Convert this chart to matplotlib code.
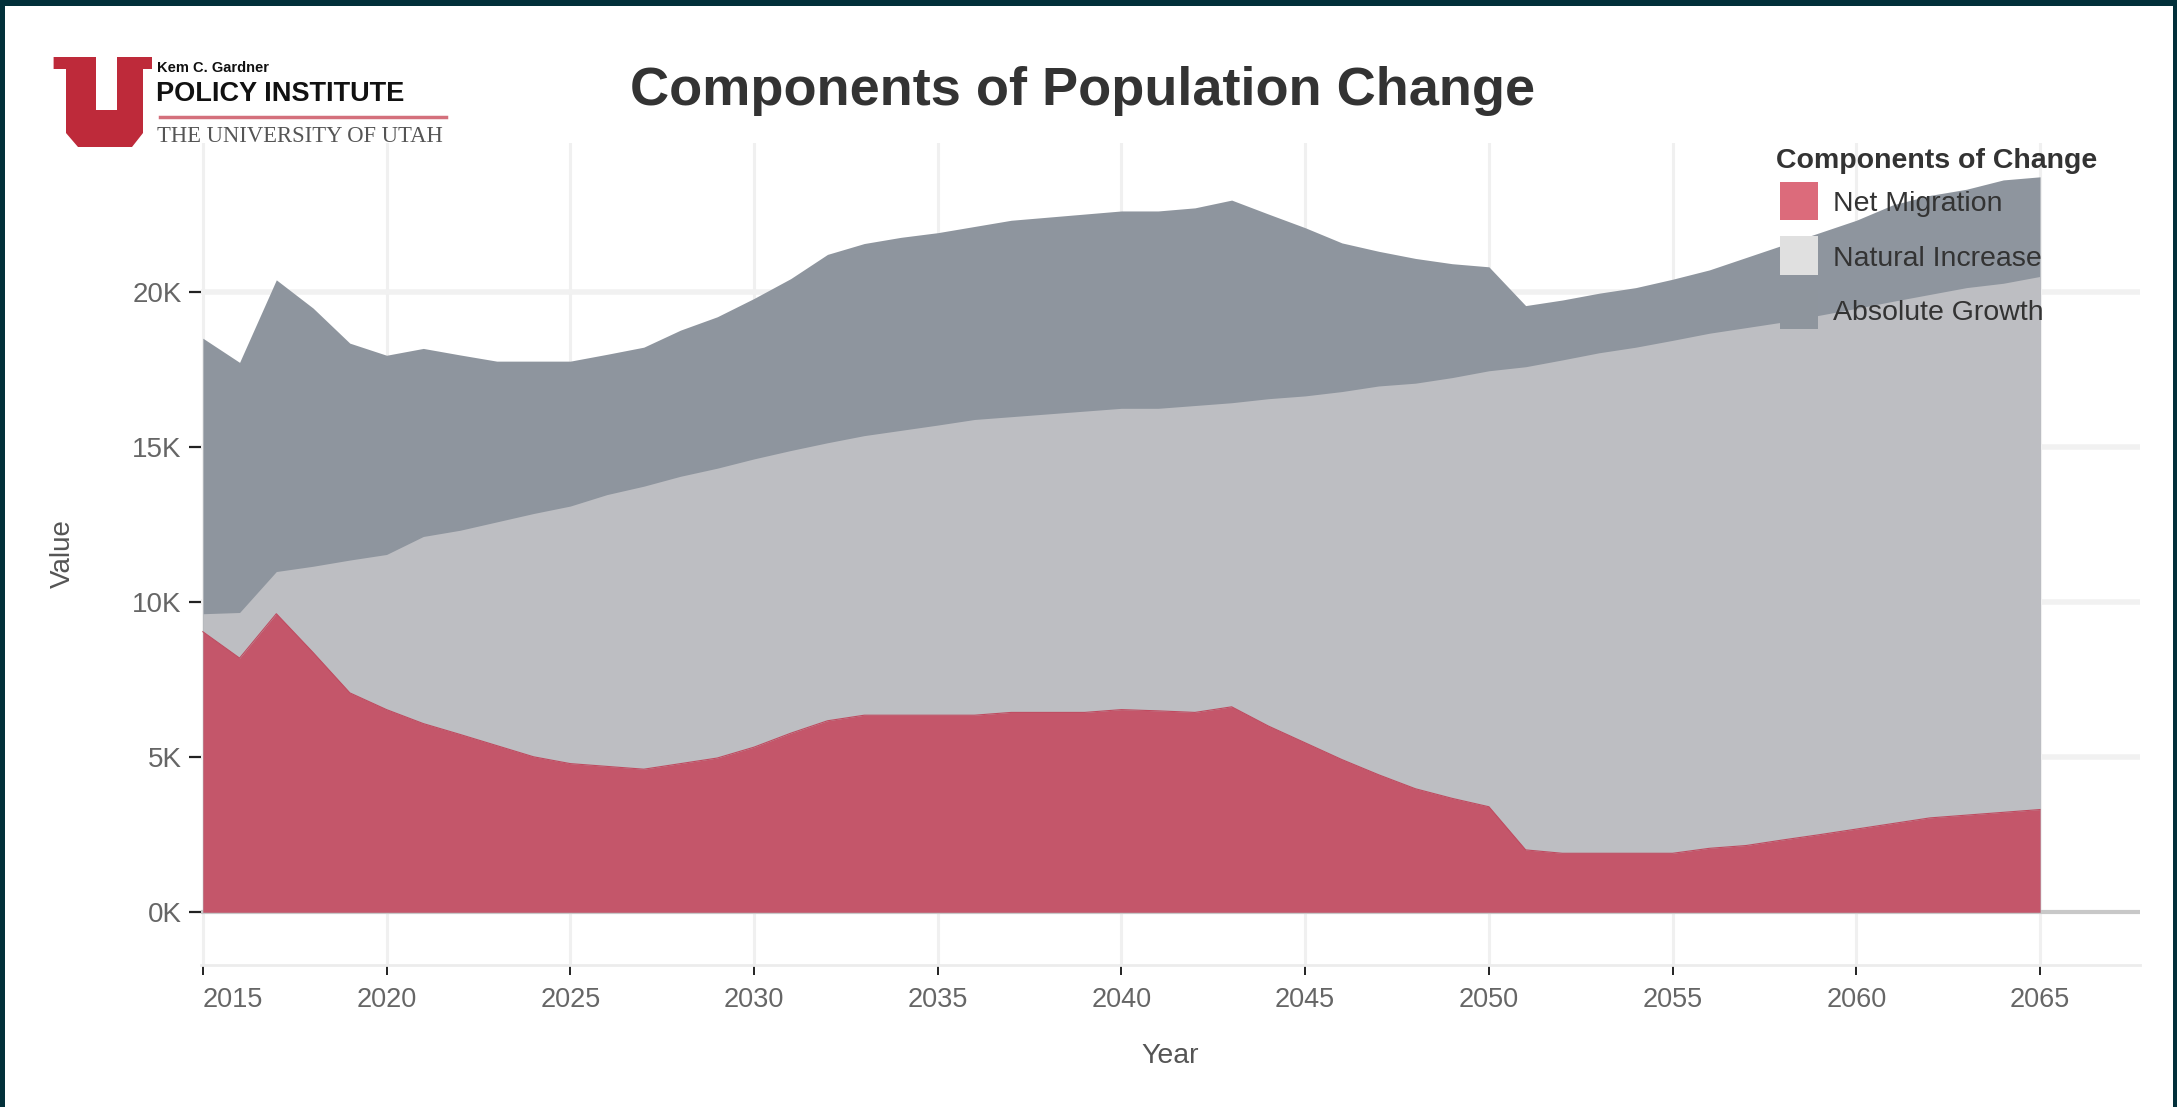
import matplotlib
matplotlib.use('Agg')
import matplotlib.pyplot as plt
from matplotlib.patches import Rectangle, Polygon
from matplotlib.lines import Line2D

# ---------------- data ----------------
years = [2015, 2016, 2017, 2018, 2019, 2020, 2021, 2022, 2023, 2024,
         2025, 2026, 2027, 2028, 2029, 2030, 2031, 2032, 2033, 2034,
         2035, 2036, 2037, 2038, 2039, 2040, 2041, 2042, 2043, 2044,
         2045, 2046, 2047, 2048, 2049, 2050, 2051, 2052, 2053, 2054,
         2055, 2056, 2057, 2058, 2059, 2060, 2061, 2062, 2063, 2064, 2065]

net_migration = [9040, 8190, 9620, 8370, 7070, 6530, 6080, 5730, 5370, 5010,
                 4790, 4700, 4610, 4790, 4970, 5320, 5770, 6170, 6350, 6350,
                 6350, 6350, 6440, 6440, 6440, 6530, 6490, 6440, 6620, 6000,
                 5460, 4920, 4430, 3980, 3670, 3400, 2010, 1900, 1900, 1900,
                 1900, 2060, 2150, 2330, 2500, 2680, 2860, 3040, 3130, 3220, 3310]

natural_increase = [9620, 9660, 10980, 11150, 11350, 11530, 12110, 12310, 12580, 12850,
                    13090, 13460, 13730, 14050, 14310, 14610, 14880, 15130, 15360, 15530,
                    15700, 15880, 15970, 16060, 16150, 16240, 16240, 16330, 16420, 16550,
                    16640, 16780, 16960, 17050, 17230, 17450, 17580, 17800, 18030, 18210,
                    18430, 18660, 18840, 19020, 19240, 19460, 19690, 19910, 20130, 20270, 20490]

absolute_growth = [18500, 17720, 20380, 19470, 18340, 17950, 18170, 17960, 17760, 17760,
                   17760, 17980, 18210, 18760, 19190, 19780, 20420, 21200, 21550, 21750,
                   21900, 22100, 22300, 22400, 22500, 22600, 22600, 22700, 22950, 22500,
                   22060, 21570, 21300, 21070, 20900, 20800, 19550, 19730, 19950, 20130,
                   20400, 20700, 21100, 21500, 21900, 22300, 22800, 23100, 23300, 23600, 23700]

series_names = ['Net Migration', 'Natural Increase', 'Absolute Growth']
x_ticks = [2015, 2020, 2025, 2030, 2035, 2040, 2045, 2050, 2055, 2060, 2065]
y_ticks = [0, 5000, 10000, 15000, 20000]
y_tick_labels = ['0K', '5K', '10K', '15K', '20K']

# ---------------- style ----------------
plt.rcParams['font.family'] = ['Liberation Sans', 'DejaVu Sans']
W, H, DPI = 2177, 1107, 100
C_AG = '#8e959e'
C_NI = '#bdbec2'
C_NM = '#c4566a'
LEG_NM = '#dc6b7b'
LEG_NI = '#e0e0e0'
LEG_AG = '#8e959d'
BORDER = '#02303a'


def fx(px):
    return px / W


def fy(py):
    return 1 - py / H


fig = plt.figure(figsize=(W / DPI, H / DPI), dpi=DPI, facecolor='white')

ax_l, ax_r, ax_t, ax_b = 201, 2140, 143, 965
ax = fig.add_axes([fx(ax_l), fy(ax_b), (ax_r - ax_l) / W, (ax_b - ax_t) / H])
ax.set_facecolor('white')

# areas (overlapping, not stacked)
ax.fill_between(years, 0, absolute_growth, color=C_AG, lw=0, zorder=2)
ax.fill_between(years, 0, natural_increase, color=C_NI, lw=0, zorder=3)
ax.fill_between(years, 0, net_migration, color=C_NM, lw=0, zorder=4)
ax.plot(years, net_migration, color='#bf4b60', lw=0.8, zorder=4.5)

ax.set_xlim(2014.95, 2067.72)
ax.set_ylim(-1700, 24790)

# grid
for xt in x_ticks:
    ax.axvline(xt, color='#f0f0f0', lw=2.2, zorder=0)
for yt in y_ticks[1:]:
    ax.axhline(yt, color='#f1f1f1', lw=4.0, zorder=0)
ax.axhline(0, color='#c8c8c8', lw=3.0, zorder=1.5)

for s in ['top', 'right', 'left']:
    ax.spines[s].set_visible(False)
ax.spines['bottom'].set_color('#ececec')
ax.spines['bottom'].set_linewidth(2.0)

ax.set_xticks(x_ticks)
ax.set_xticklabels([str(x) for x in x_ticks])
ax.set_yticks(y_ticks)
ax.set_yticklabels(y_tick_labels)
ax.tick_params(axis='x', direction='out', length=7.5, width=1.4, color='#222222',
               pad=8, labelsize=19.5, labelcolor='#666666')
ax.tick_params(axis='y', direction='out', length=9, width=1.6, color='#222222',
               pad=5, labelsize=20, labelcolor='#666666')
# first year label is kept inside the plot edge, as in the original
ax.get_xticklabels()[0].set_horizontalalignment('left')

# axis labels
fig.text(fx(1170), fy(1063), 'Year', ha='center', va='baseline', fontsize=20.5, color='#555555')
fig.text(fx(63), fy(554), 'Value', ha='center', va='center', rotation=90, fontsize=20, color='#555555')

# title
fig.text(fx(1083), fy(105), 'Components of Population Change', ha='center', va='baseline',
         fontsize=39, fontweight='bold', color='#333333')

# legend
fig.text(fx(1776), fy(168), 'Components of Change', ha='left', va='baseline',
         fontsize=20.5, fontweight='bold', color='#333333')
leg_colors = [LEG_NM, LEG_NI, LEG_AG]
row_centers = [201, 255.5, 309.5]
for name, col, yc in zip(series_names, leg_colors, row_centers):
    fig.patches.append(Rectangle((fx(1780), fy(yc + 19)), 38 / W, 38 / H,
                                 transform=fig.transFigure, facecolor=col,
                                 edgecolor='none', zorder=5))
    fig.text(fx(1833), fy(yc + 10), name, ha='left', va='baseline',
             fontsize=20.5, color='#333333', zorder=6)

# logo
u_pts = [(53.6, 57), (96, 57), (96, 110), (117, 110), (117, 57), (152, 57), (152, 69),
         (143, 69), (143, 133), (132, 147), (78, 147), (66, 133), (66, 69), (53.6, 69)]
fig.patches.append(Polygon([(fx(x), fy(y)) for x, y in u_pts], closed=True,
                           transform=fig.transFigure, facecolor='#be2a3a',
                           edgecolor='none', zorder=5))
fig.text(fx(157), fy(72), 'Kem C. Gardner', ha='left', va='baseline', fontsize=10.5,
         fontweight='bold', color='#111111')
fig.text(fx(156), fy(101), 'POLICY INSTITUTE', ha='left', va='baseline', fontsize=19.5,
         fontweight='bold', color='#111111')
fig.lines.append(Line2D([fx(160), fx(446)], [fy(117), fy(117)], transform=fig.transFigure,
                        color='#d4707c', lw=2.5))
fig.text(fx(157), fy(142), 'THE UNIVERSITY OF UTAH', ha='left', va='baseline',
         fontsize=16.3, family=['Liberation Serif', 'DejaVu Serif'], color='#555555')

# dark frame
frame = [(0, 1 - 6 / H, 1, 6 / H), (0, 0, 5 / W, 1), (1 - 4 / W, 0, 4 / W, 1)]
for (x0, y0, w, h) in frame:
    fig.patches.append(Rectangle((x0, y0), w, h, transform=fig.transFigure,
                                 facecolor=BORDER, edgecolor='none', zorder=10))

fig.savefig('out.png', dpi=DPI, facecolor='white')
